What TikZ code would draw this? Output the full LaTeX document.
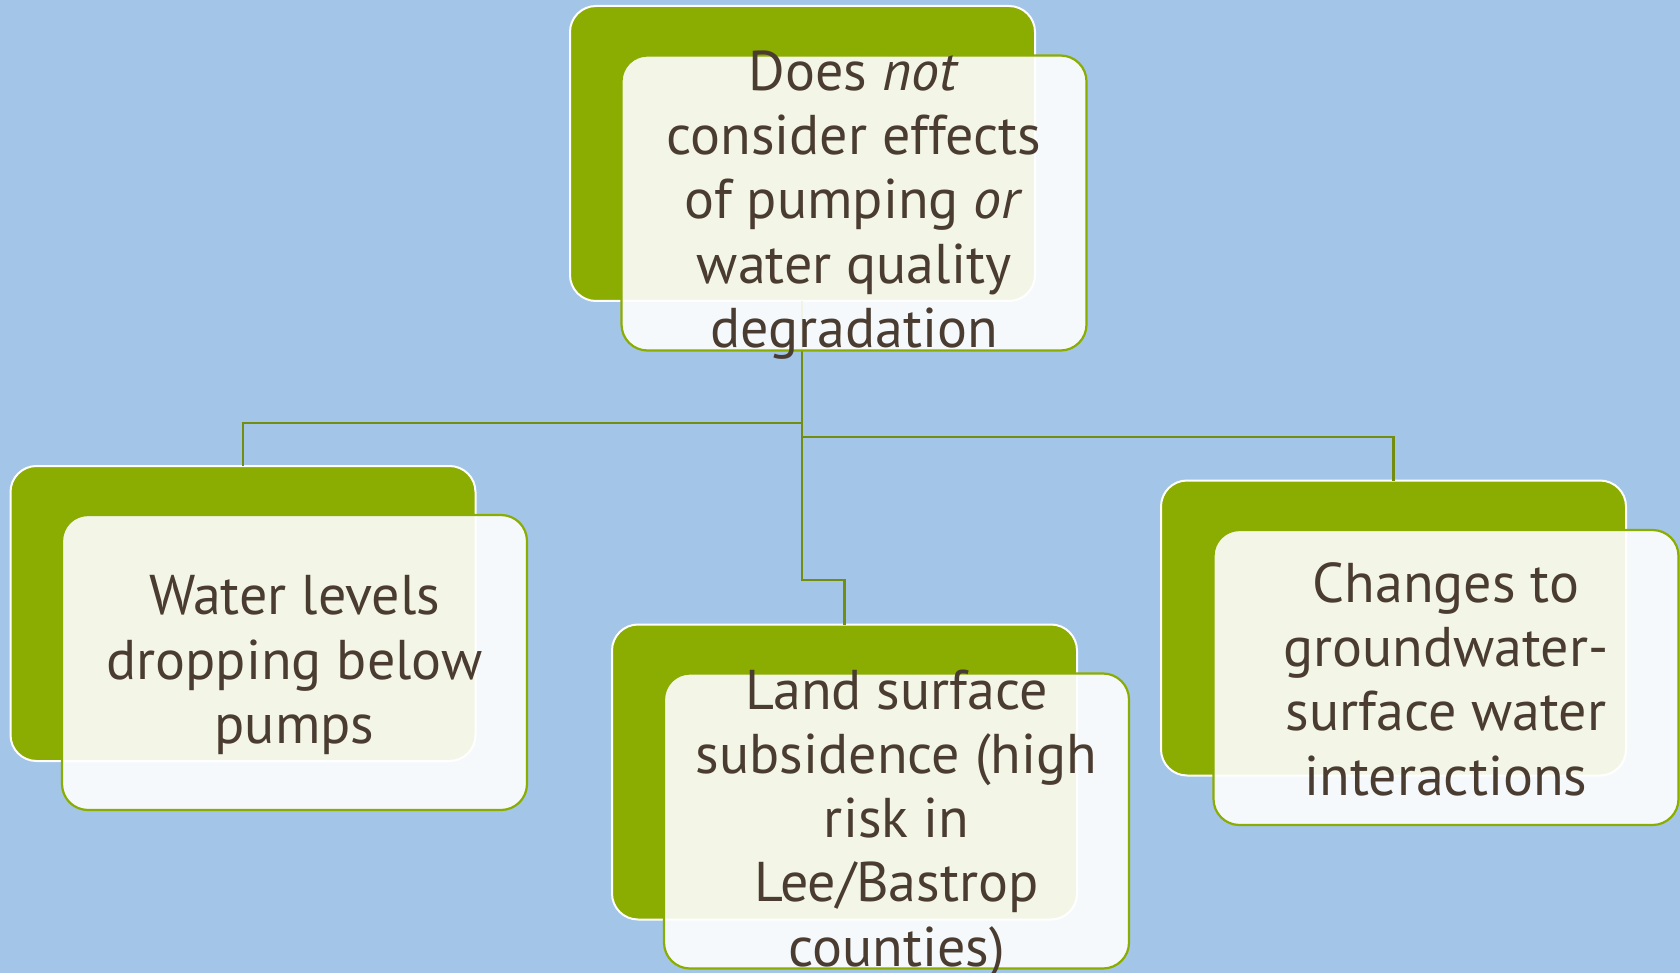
\documentclass[tikz,border=0pt]{standalone}
\usepackage{fontspec}
\setmainfont{PT Sans}
\definecolor{bgblue}{HTML}{A2C5E8}
\definecolor{boxgreen}{HTML}{8BAC00}
\definecolor{linkgreen}{HTML}{738D10}
\definecolor{txtbrown}{HTML}{4A3C30}
\tikzset{
  backbox/.style={draw=white, line width=2pt, fill=boxgreen, rounded corners=26pt,
    minimum width=465pt, minimum height=295pt, inner sep=0pt, outer sep=0pt},
  frontbox/.style={draw=boxgreen, line width=2.2pt, fill=white, fill opacity=0.9, draw opacity=1,
    rounded corners=26pt, minimum width=465pt, minimum height=295pt, inner sep=0pt, outer sep=0pt},
  boxtext/.style={text=txtbrown, align=center, inner sep=0pt,
    font=\fontsize{56}{64.3}\selectfont},
  link/.style={draw=linkgreen, line width=2.4pt}
}
\begin{document}
\begin{tikzpicture}[x=1pt,y=-1pt]
\fill[bgblue] (0,0) rectangle (1680,973);
\useasboundingbox (0,0) rectangle (1680,973);
\node[backbox] (tb) at (802.5,153.5) {};
\coordinate (jl) at (802,423);
\coordinate (jr) at (802,437);
\coordinate (jm) at (802,580);
\node[backbox] (lb) at (243,613.5) {};
\node[backbox] (mb) at (844.5,772) {};
\node[backbox] (rb) at (1393.5,628) {};
\draw[link] (tb.south -| jl) -- (jl) -| (lb.north);
\draw[link] (jr) -| (rb.north);
\draw[link] (jl) -- (jm) -| (mb.north);
\node[frontbox] (tf) at (854,203) {};
\node[frontbox] (lf) at (294.5,662.5) {};
\node[frontbox] (mf) at (896.5,821) {};
\node[frontbox] (rf) at (1446,677.5) {};
\node[boxtext] (tt) at (854,205) {Does \textit{not}\\consider effects\\of pumping \textit{or}\\water quality\\degradation};
\node[boxtext] (lt) at (294.5,665) {Water levels\\dropping below\\pumps};
\node[boxtext] (mt) at (896.5,824) {Land surface\\subsidence (high\\risk in\\Lee/Bastrop\\counties)};
\node[boxtext] (rt) at (1446,679) {Changes to\\groundwater-\\surface water\\interactions};
\end{tikzpicture}
\end{document}
